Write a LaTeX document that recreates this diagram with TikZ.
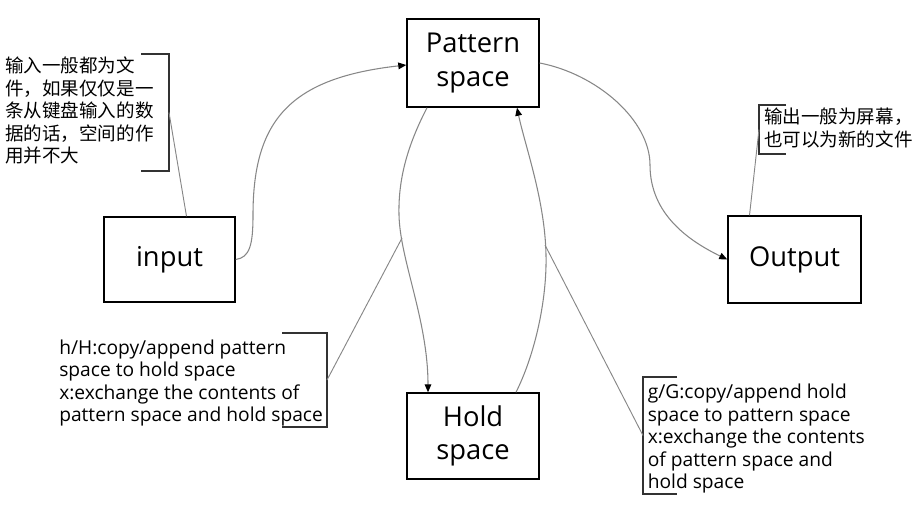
\documentclass[tikz,border=0pt]{standalone}
\usepackage{fontspec}
\setmainfont{Open Sans}
\newfontfamily\cjk{Noto Sans CJK SC}
\usetikzlibrary{arrows.meta,calc}
\definecolor{curvegray}{RGB}{135,135,135}
\definecolor{brk}{RGB}{50,50,50}
\tikzset{
  box/.style={draw=black,line width=1.1pt,fill=white,inner sep=0pt,align=center,
    font=\fontsize{20.5}{25}\selectfont},
  flow/.style={draw=curvegray,line width=0.8pt,-{Triangle[length=6pt,width=5pt,color=black]}},
  link/.style={draw=curvegray,line width=0.7pt},
  bracket/.style={draw=brk,line width=1.1pt},
  cnote/.style={inner sep=0pt,anchor=north west,align=left,font=\cjk\fontsize{13.9}{16.8}\selectfont},
  enote/.style={inner sep=0pt,anchor=north west,align=left,font=\fontsize{14.4}{16.9}\selectfont}
}
\begin{document}
\begin{tikzpicture}[x=0.75pt,y=-0.75pt]
\useasboundingbox (0,0) rectangle (923,504);
% boxes
\node[box,minimum width=99pt,minimum height=66pt] (pattern) at (473,63) {Pattern\\space};
\node[box,minimum width=99pt,minimum height=64.5pt] (hold) at (473,436) {Hold\\space};
\node[box,minimum width=98.25pt,minimum height=63.75pt] (input) at (169.5,259.5) {input};
\node[box,minimum width=99.75pt,minimum height=65.25pt] (output) at (794.5,259.5) {Output};
% flows
\draw[flow] (input.east) .. controls +(14,-2) and +(0,30) .. (253,215)
  .. controls +(0,-95) and +(-116,13) .. ($(pattern.west)+(0,2)$);
\draw[flow] (pattern.east) .. controls +(57,11) and +(0,-45) .. (650,165)
  .. controls +(0,50) and +(-37,-18) .. (output.west);
\draw[flow] ($(pattern.south)+(-46,0)$) .. controls +(-17,33) and +(-1,-40) .. (399,215)
  .. controls +(1,45) and +(0,-72) .. ($(hold.north)+(-45,0)$);
\draw[flow] ($(hold.north)+(43,0)$) .. controls +(19,-38) and +(1,45) .. (546,255)
  .. controls +(-1,-55) and +(8,38) .. ($(pattern.south)+(44,0)$);
\coordinate (j1) at (402,238);
\coordinate (j2) at (545,245);
% notes
\node[cnote] (n1) at (5,57) {输入一般都为文\\件，如果仅仅是一\\条从键盘输入的数\\据的话，空间的作\\用并不大};
\draw[bracket] (141,54) -- (169,54) -- (169,171) -- (141,171);
\coordinate (b1) at (169,112.5);
\draw[link] (b1) -- ($(input.north)+(17,0)$);

\node[cnote] (n2) at (764,108) {输出一般为屏幕，\\也可以为新的文件};
\draw[bracket] (786,105) -- (759,105) -- (759,154) -- (786,154);
\coordinate (b2) at (759,129.5);
\draw[link] (b2) -- ($(output.north)+(-45,0)$);

\node[enote] (n3) at (59,339.5) {h/H:copy/append pattern\\space to hold space\\x:exchange the contents of\\pattern space and hold space};
\draw[bracket] (282,333) -- (327,333) -- (327,427) -- (282,427);
\coordinate (b3) at (327,380);
\draw[link] (b3) -- (j1);

\node[enote] (n4) at (647.5,384) {g/G:copy/append hold\\space to pattern space\\x:exchange the contents\\of pattern space and\\hold space};
\draw[bracket] (677,377) -- (643,377) -- (643,494) -- (677,494);
\coordinate (b4) at (643,435.5);
\draw[link] (b4) -- (j2);
\end{tikzpicture}
\end{document}
